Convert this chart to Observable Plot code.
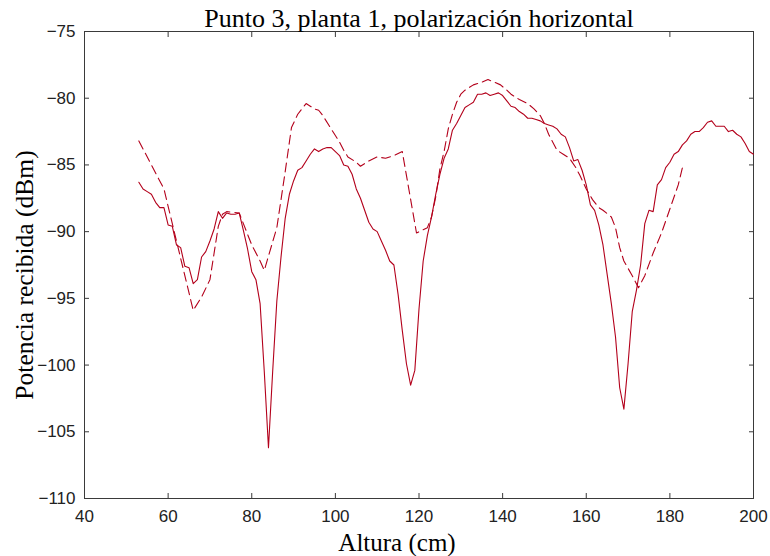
<!DOCTYPE html>
<html>
<head>
<meta charset="utf-8">
<script src="https://cdn.jsdelivr.net/npm/d3@7"></script>
<script src="https://cdn.jsdelivr.net/npm/@observablehq/plot@0.6"></script>
<style>
  html, body { margin: 0; padding: 0; background: #fff; }
  #chart svg { display: block; }
</style>
</head>
<body>
<div id="chart"></div>
<script>
const titleText = "Punto 3, planta 1, polarización horizontal";
const xLabel = "Altura (cm)";
const yLabel = "Potencia recibida (dBm)";
const xTicks = [40, 60, 80, 100, 120, 140, 160, 180, 200];
const yTicks = [-110, -105, -100, -95, -90, -85, -80, -75];

const solidX = [53,54,55,56,57,58,59,60,61,62,63,64,65,66,67,68,69,70,71,72,73,74,75,76,77,78,79,80,81,82,83,84,85,86,87,88,89,90,91,92,93,94,95,96,97,98,99,100,101,102,103,104,105,106,107,108,109,110,111,112,113,114,115,116,117,118,119,120,121,122,123,124,125,126,127,128,129,130,131,132,133,134,135,136,137,138,139,140,141,142,143,144,145,146,147,148,149,150,151,152,153,154,155,156,157,158,159,160,161,162,163,164,165,166,167,168,169,170,171,172,173,174,175,176,177,178,179,180,181,182,183,184,185,186,187,188,189,190,191,192,193,194,195,196,197,198,199,200];
const solidY = [-86.3,-86.8,-87.0,-87.2,-87.8,-88.2,-88.2,-89.5,-89.6,-91.0,-91.2,-92.6,-92.7,-93.9,-93.6,-91.9,-91.5,-90.7,-89.8,-88.5,-89.0,-88.6,-88.7,-88.7,-88.6,-89.9,-91.3,-93.0,-93.6,-95.4,-100.5,-106.2,-100.5,-95.2,-91.9,-89.0,-87.2,-86.2,-85.4,-85.2,-84.7,-84.2,-83.8,-84.0,-83.8,-83.7,-83.7,-84.0,-84.3,-85.0,-85.1,-85.7,-86.8,-87.5,-88.4,-89.3,-89.8,-90.0,-90.7,-91.4,-92.2,-92.5,-94.7,-97.4,-99.9,-101.5,-100.4,-95.8,-92.2,-90.3,-88.9,-87.2,-85.7,-84.5,-83.8,-82.4,-81.9,-81.3,-80.7,-80.5,-80.3,-79.7,-79.7,-79.6,-79.8,-79.7,-79.6,-79.8,-80.2,-80.6,-80.7,-81.0,-81.2,-81.5,-81.5,-81.6,-81.7,-81.9,-82.0,-82.1,-82.3,-82.7,-82.9,-83.7,-84.7,-84.6,-85.4,-86.5,-88.0,-88.4,-89.5,-91.0,-93.2,-95.4,-97.9,-101.7,-103.3,-99.9,-96.0,-94.4,-92.5,-89.4,-88.4,-88.5,-86.5,-86.1,-85.2,-84.8,-84.2,-84.0,-83.5,-83.2,-82.7,-82.5,-82.5,-82.2,-81.8,-81.7,-82.1,-82.1,-82.1,-82.5,-82.4,-82.7,-82.9,-83.4,-84.0,-84.2];

const dashX = [53,59,66,68,70,72,73,74,77,78,80,82,83,86,87,88,89.5,91,92,93,94,95,96,97,99,101,102,103,105,106,108,110,112,114,116,119.4,122,123,124,125,126,127,128,129,130,131,133,135,136.5,138,139.5,141,142,144,146,147.5,149,150,151,152,153,154.5,156,157.5,158.5,160,161.5,163,164,166,167,168,169,171,172.5,174,176,178,180,182,183];
const dashY = [-83.2,-86.8,-95.9,-94.9,-93.6,-89.6,-88.7,-88.5,-88.6,-89.4,-91.0,-92.2,-92.9,-89.7,-87.6,-85.5,-82.2,-81.2,-80.8,-80.4,-80.6,-80.8,-80.9,-81.3,-82.3,-83.3,-83.9,-84.4,-84.8,-85.1,-84.7,-84.4,-84.5,-84.3,-84.0,-90.1,-89.7,-88.9,-87.4,-85.3,-84.0,-82.3,-81.2,-80.3,-79.7,-79.4,-79.0,-78.8,-78.6,-78.8,-79.0,-79.4,-79.7,-80.1,-80.4,-80.8,-81.3,-81.9,-82.7,-83.3,-83.9,-84.2,-84.5,-85.2,-85.8,-86.8,-87.6,-88.2,-88.4,-88.9,-89.7,-91.2,-92.2,-93.3,-94.2,-93.3,-91.6,-90.1,-88.3,-86.5,-85.2];

const solid = solidX.map((x, i) => ({x, y: solidY[i]}));
const dashed = dashX.map((x, i) => ({x, y: dashY[i]}));

const lineColor = "#b3001b";
const axisColor = "#3a3a3a";
const serif = "'Liberation Serif', 'Times New Roman', Times, serif";
const sans = "'Liberation Sans', Arial, Helvetica, sans-serif";

const chart = Plot.plot({
  width: 770,
  height: 556,
  marginTop: 31,
  marginRight: 17,
  marginBottom: 58,
  marginLeft: 84,
  style: {background: "#fff", color: axisColor},
  x: {domain: [40, 200], ticks: xTicks},
  y: {domain: [-110, -75], ticks: yTicks},
  marks: [
    Plot.frame({stroke: axisColor, strokeWidth: 1}),
    Plot.axisX({anchor: "bottom", ticks: xTicks, tickSize: -5, tickPadding: 16, label: null,
      fontSize: 17, fontFamily: sans, fill: "#222", stroke: axisColor}),
    Plot.axisX({anchor: "top", ticks: xTicks, tickSize: -5, fill: "none", label: null, stroke: axisColor}),
    Plot.axisY({anchor: "left", ticks: yTicks, tickSize: -5, tickPadding: 14, label: null,
      fontSize: 17, fontFamily: sans, fill: "#222", stroke: axisColor}),
    Plot.axisY({anchor: "right", ticks: yTicks, tickSize: -5, fill: "none", label: null, stroke: axisColor}),
    Plot.line(dashed, {x: "x", y: "y", stroke: lineColor, strokeWidth: 1.1, strokeDasharray: "9,5"}),
    Plot.line(solid, {x: "x", y: "y", stroke: lineColor, strokeWidth: 1.1}),
    Plot.text([titleText], {frameAnchor: "top", textAnchor: "middle", lineAnchor: "bottom", dy: -5, text: d => d,
      fontSize: 26, fontFamily: serif, fill: "#000"}),
    Plot.text([xLabel], {frameAnchor: "bottom", textAnchor: "middle", lineAnchor: "top", dx: -22, dy: 35, text: d => d,
      fontSize: 25, fontFamily: serif, fill: "#000"}),
    Plot.text([yLabel], {frameAnchor: "left", textAnchor: "middle", lineAnchor: "middle", rotate: -90, dx: -60, dy: 10, text: d => d,
      fontSize: 25.5, fontFamily: serif, fill: "#000"})
  ]
});
document.getElementById("chart").appendChild(chart);
</script>
</body>
</html>
